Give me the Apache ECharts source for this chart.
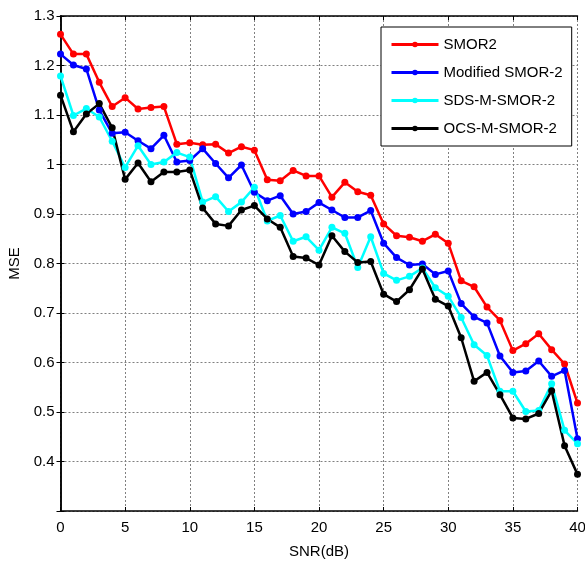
<!DOCTYPE html>
<html lang="en">
<head>
  <meta charset="UTF-8">
  <script src="https://cdn.jsdelivr.net/npm/echarts@6/dist/echarts.min.js"></script>
</head>
<body style="margin:0;">
<div id="main" style="width:585px;height:562px;"></div>
<script>
  var snr = [0,1,2,3,4,5,6,7,8,9,10,11,12,13,14,15,16,17,18,19,20,
             21,22,23,24,25,26,27,28,29,30,31,32,33,34,35,36,37,38,39,40];
  var smor2 = [1.263,1.223,1.223,1.166,1.117,1.135,1.112,1.115,1.117,1.041,1.044,
               1.040,1.041,1.023,1.036,1.029,0.969,0.967,0.988,0.977,0.977,
               0.934,0.964,0.945,0.938,0.880,0.856,0.853,0.845,0.859,0.841,
               0.765,0.753,0.712,0.685,0.624,0.638,0.658,0.626,0.597,0.518];
  var modSmor2 = [1.223,1.201,1.193,1.110,1.063,1.065,1.048,1.032,1.059,1.005,1.008,
                  1.032,1.002,0.973,0.999,0.944,0.927,0.937,0.900,0.905,0.923,
                  0.908,0.893,0.893,0.907,0.841,0.812,0.797,0.799,0.778,0.785,
                  0.719,0.692,0.680,0.613,0.580,0.583,0.603,0.572,0.584,0.446];
  var sdsSmor2 = [1.179,1.099,1.113,1.096,1.047,0.994,1.038,1.000,1.005,1.024,1.015,
                  0.924,0.935,0.905,0.924,0.954,0.886,0.897,0.845,0.854,0.827,
                  0.873,0.861,0.792,0.854,0.780,0.766,0.774,0.791,0.751,0.734,
                  0.691,0.636,0.614,0.542,0.542,0.501,0.503,0.557,0.463,0.436];
  var ocsSmor2 = [1.140,1.066,1.102,1.123,1.074,0.970,1.003,0.965,0.985,0.985,0.989,
                  0.912,0.880,0.876,0.908,0.917,0.890,0.873,0.814,0.811,0.797,
                  0.856,0.824,0.802,0.804,0.738,0.723,0.747,0.789,0.728,0.714,
                  0.650,0.562,0.580,0.535,0.488,0.486,0.497,0.543,0.432,0.374];
  var names = ['SMOR2','Modified SMOR-2','SDS-M-SMOR-2','OCS-M-SMOR-2'];
  var colors = ['#ff0000','#0000ff','#00ffff','#000000'];

  var font = "'Liberation Sans', Arial, sans-serif";
  var chart = echarts.init(document.getElementById('main'));

  function pairs(ys){
    var out = [];
    for (var i = 0; i < snr.length; i++) out.push([snr[i], ys[i]]);
    return out;
  }
  var gridLine = {show:true, lineStyle:{color:'#808080', type:[2,2], width:1}};
  var frame = {show:true, onZero:false, lineStyle:{color:'#000', width:1.5}};

  var all = [smor2, modSmor2, sdsSmor2, ocsSmor2];
  var series = [];
  for (var k = 0; k < all.length; k++){
    series.push({
      name:names[k],
      type:'line',
      data:pairs(all[k]),
      symbol:'circle',
      symbolSize:7,
      color:colors[k],
      lineStyle:{width:2.5, color:colors[k]},
      itemStyle:{color:colors[k]},
      animation:false
    });
  }

  chart.setOption({
    textStyle:{fontFamily:font},
    grid:{left:60.5, right:7.5, top:16, bottom:51, outerBoundsMode:'none'},
    legend:{
      data:names,
      orient:'vertical',
      left:381, top:27,
      itemWidth:47, itemHeight:7, itemGap:11,
      padding:[9,9,9,9],
      backgroundColor:'#fff',
      borderColor:'#000', borderWidth:1,
      lineStyle:{width:3},
      textStyle:{fontFamily:font, fontSize:15, color:'#000', lineHeight:17}
    },
    xAxis:[{
      type:'value', min:0, max:40, interval:5,
      name:'SNR(dB)', nameLocation:'middle', nameGap:33,
      nameTextStyle:{fontFamily:font, fontSize:15, color:'#000'},
      axisLine:frame,
      axisTick:{show:true, inside:true, length:4, lineStyle:{color:'#000'}},
      axisLabel:{fontFamily:font, fontSize:15, color:'#000', margin:9},
      splitLine:gridLine
    },{
      type:'value', min:0, max:40, interval:5, position:'top',
      axisLine:{show:true, lineStyle:{color:'#000', width:1.5}},
      axisTick:{show:true, inside:true, length:4, lineStyle:{color:'#000'}},
      axisLabel:{show:false}, splitLine:{show:false}
    }],
    yAxis:[{
      type:'value', min:0.3, max:1.3, interval:0.1,
      name:'MSE', nameLocation:'middle', nameGap:38,
      nameTextStyle:{fontFamily:font, fontSize:15, color:'#000'},
      axisLine:frame,
      axisTick:{show:true, inside:true, length:4, lineStyle:{color:'#000'}},
      axisLabel:{fontFamily:font, fontSize:15, color:'#000', margin:6,
        formatter:function(v){
          var r = Math.round(v*10)/10;
          return r < 0.35 ? '' : String(r);
        }},
      splitLine:gridLine
    },{
      type:'value', min:0.3, max:1.3, interval:0.1, position:'right',
      axisLine:{show:true, lineStyle:{color:'#000', width:1.5}},
      axisTick:{show:true, inside:true, length:4, lineStyle:{color:'#000'}},
      axisLabel:{show:false}, splitLine:{show:false}
    }],
    series:series
  });
</script>
</body>
</html>
